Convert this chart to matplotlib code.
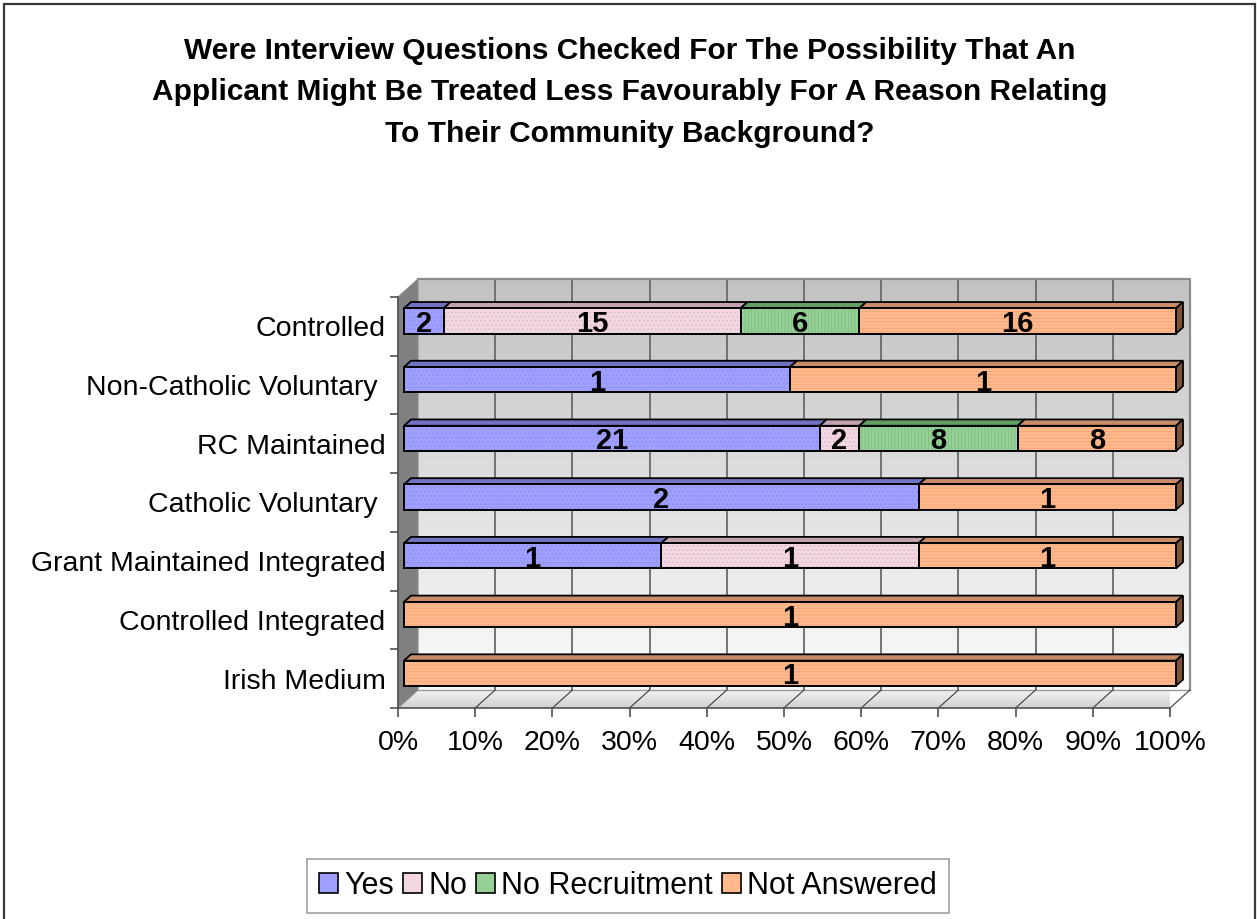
import numpy as np
import matplotlib
matplotlib.use("Agg")
import matplotlib.pyplot as plt
from matplotlib.patches import Polygon, Rectangle, Patch
from matplotlib.colors import LinearSegmentedColormap

plt.rcParams['font.family'] = ['Liberation Sans', 'DejaVu Sans']
plt.rcParams['hatch.linewidth'] = 0.6

# ---- data -------------------------------------------------------------
categories = ["Controlled", "Non-Catholic Voluntary ", "RC Maintained",
              "Catholic Voluntary ", "Grant Maintained Integrated",
              "Controlled Integrated", "Irish Medium"]
series_names = ["Yes", "No", "No Recruitment", "Not Answered"]
yes_counts = [2, 1, 21, 2, 1, 0, 0]
no_counts = [15, 0, 2, 0, 1, 0, 0]
no_recruitment_counts = [6, 0, 8, 0, 0, 0, 0]
not_answered_counts = [16, 1, 8, 1, 1, 1, 1]
x_tick_labels = ["0%", "10%", "20%", "30%", "40%", "50%", "60%", "70%",
                 "80%", "90%", "100%"]
title_lines = ["Were Interview Questions Checked For The Possibility That An",
               "Applicant Might Be Treated Less Favourably For A Reason Relating",
               "To Their Community Background?"]

# ---- styling ----------------------------------------------------------
front_colors = ["#9f9fff", "#f2d6e2", "#96d096", "#ffb98c"]
hatch_colors = ["#8c8cf0", "#dcb8c8", "#7cbc7c", "#f4a478"]
hatches = ["....", "....", "|||||", "-----"]
top_colors = ["#7272c4", "#c4a2b2", "#62a062", "#c88c68"]
end_colors = ["#4e4e90", "#8c7080", "#3e703e", "#7e5236"]

W, H = 1257, 919
fig = plt.figure(figsize=(W / 100, H / 100), dpi=100)
fig.patch.set_facecolor("white")

# outer frame
fig.patches.append(Rectangle((4 / W, -0.05), (1255 - 4) / W, (H - 4) / H + 0.05,
                             transform=fig.transFigure, fill=False,
                             edgecolor="#3a3a3a", linewidth=1.6))

# title
for k, line in enumerate(title_lines):
    fig.text(630 / W, (H - (59 + 41.5 * k)) / H, line, ha="center",
             va="baseline", fontsize=21.5, fontweight="bold", color="black")

# front plane of the plot area
ax = fig.add_axes([398 / W, (H - 708) / H, 772 / W, 411 / H])
n = len(categories)
ax.set_xlim(0, 1)
ax.set_ylim(n - 0.5, -0.5)
ax.patch.set_visible(False)

# depth vector (data units) for the 3-D look
DX = 20 / 772
DY = -18 / (411 / n)
y_top, y_bot = -0.5, n - 0.5

# back wall with vertical gradient
wall_cmap = LinearSegmentedColormap.from_list("wall", ["#c2c2c2", "#fbfbfb"])
grad = np.linspace(0, 1, 256).reshape(-1, 1)
ax.imshow(grad, cmap=wall_cmap, aspect="auto", origin="upper",
          extent=[DX, 1 + DX, y_bot + DY, y_top + DY], zorder=0,
          clip_on=False, interpolation="bilinear")

# floor
floor_cmap = LinearSegmentedColormap.from_list("floor", ["#f4f4f4", "#cfcfcf"])
floor_poly = Polygon([(0, y_bot), (1, y_bot), (1 + DX, y_bot + DY),
                      (DX, y_bot + DY)], closed=True, facecolor="none",
                     edgecolor="none", zorder=0.5)
ax.add_patch(floor_poly)
fimg = ax.imshow(grad, cmap=floor_cmap, aspect="auto", origin="upper",
                 extent=[0, 1 + DX, y_bot, y_bot + DY], zorder=0.5,
                 interpolation="bilinear")
fimg.set_clip_path(floor_poly)

# left side wall
ax.add_patch(Polygon([(0, y_top), (DX, y_top + DY), (DX, y_bot + DY),
                      (0, y_bot)], closed=True, facecolor="#808080",
                     edgecolor="#8a8a8a", linewidth=0.8, zorder=1,
                     clip_on=False))

# gridlines on the back wall and the floor
ticks = np.linspace(0, 1, len(x_tick_labels))
for t in ticks[1:-1]:
    ax.plot([t + DX, t + DX], [y_top + DY, y_bot + DY], color="#6a6a6a",
            lw=1.3, zorder=1, clip_on=False)
for t in ticks[1:]:
    ax.plot([t, t + DX], [y_bot, y_bot + DY], color="#3c3c3c", lw=0.8,
            zorder=1.2, clip_on=False)
# wall outlines
ax.plot([DX, 1 + DX, 1 + DX], [y_top + DY, y_top + DY, y_bot + DY],
        color="#8c8c8c", lw=1.6, zorder=1.1, clip_on=False)
ax.plot([DX, 1 + DX], [y_bot + DY, y_bot + DY], color="#9a9a9a", lw=1.0,
        zorder=1.1, clip_on=False)

# bars
F0, F1 = 0.3, 0.65
BH = 0.43
ddx, ddy = (F1 - F0) * DX, (F1 - F0) * DY
ox, oy = F0 * DX, F0 * DY
counts = np.array([yes_counts, no_counts, no_recruitment_counts,
                   not_answered_counts], dtype=float)
shares = counts / counts.sum(axis=0)
lefts = np.vstack([np.zeros(n), np.cumsum(shares, axis=0)[:-1]])

for i in range(n):
    yt = i - BH / 2 + oy
    yb = i + BH / 2 + oy
    visible = [s for s in range(len(series_names)) if counts[s, i] > 0]
    for s in visible:
        l = lefts[s, i] + ox
        w = shares[s, i]
        r = l + w
        # top face
        ax.add_patch(Polygon([(l, yt), (r, yt), (r + ddx, yt + ddy),
                              (l + ddx, yt + ddy)], closed=True,
                             facecolor=top_colors[s], edgecolor="black",
                             linewidth=1.3, zorder=3, clip_on=False,
                             joinstyle="miter"))
        # front face with texture
        ax.barh(i + oy, w, left=l, height=BH, color=front_colors[s],
                hatch=hatches[s], edgecolor=hatch_colors[s], linewidth=0,
                zorder=4, clip_on=False)
        ax.barh(i + oy, w, left=l, height=BH, fill=False, edgecolor="black",
                linewidth=1.4, zorder=5, clip_on=False)
        ax.text(l + w / 2, i + oy, f"{int(counts[s, i])}", ha="center",
                va="center_baseline", fontsize=21, fontweight="bold",
                color="black", zorder=6)
    # right end face of the last segment
    s = visible[-1]
    r = lefts[s, i] + shares[s, i] + ox
    ax.add_patch(Polygon([(r, yt), (r + ddx, yt + ddy), (r + ddx, yb + ddy),
                          (r, yb)], closed=True, facecolor=end_colors[s],
                         edgecolor="black", linewidth=1.3, zorder=3,
                         clip_on=False, joinstyle="miter"))

# axes, ticks and labels
for side in ["top", "right"]:
    ax.spines[side].set_visible(False)
for side in ["left", "bottom"]:
    ax.spines[side].set_color("#505050")
    ax.spines[side].set_linewidth(1.2)
    ax.spines[side].set_zorder(2)
ax.set_xticks(ticks)
ax.set_xticklabels(x_tick_labels, fontsize=20.5)
ax.tick_params(axis="x", length=6.5, width=1.2, color="#505050", pad=9)
ax.set_yticks(np.arange(n))
ax.set_yticklabels(categories, fontsize=20.5)
ax.set_yticks(np.arange(n + 1) - 0.5, minor=True)
ax.tick_params(axis="y", which="major", length=0, pad=9)
ax.tick_params(axis="y", which="minor", length=6, width=1.2, color="#505050")

# legend
handles = [Patch(facecolor=front_colors[s], edgecolor="black", linewidth=1.2,
                 label=series_names[s]) for s in range(len(series_names))]
leg = fig.legend(handles=handles, loc="center", ncol=4,
                 bbox_to_anchor=(628 / W, (H - 886) / H), fontsize=22,
                 frameon=True, fancybox=False, edgecolor="#8a8a8a",
                 handlelength=0.62, handleheight=0.62, handletextpad=0.2,
                 columnspacing=0.3, borderpad=0.4)
leg.get_frame().set_linewidth(1.2)

fig.savefig("out.png", dpi=100, facecolor="white")
